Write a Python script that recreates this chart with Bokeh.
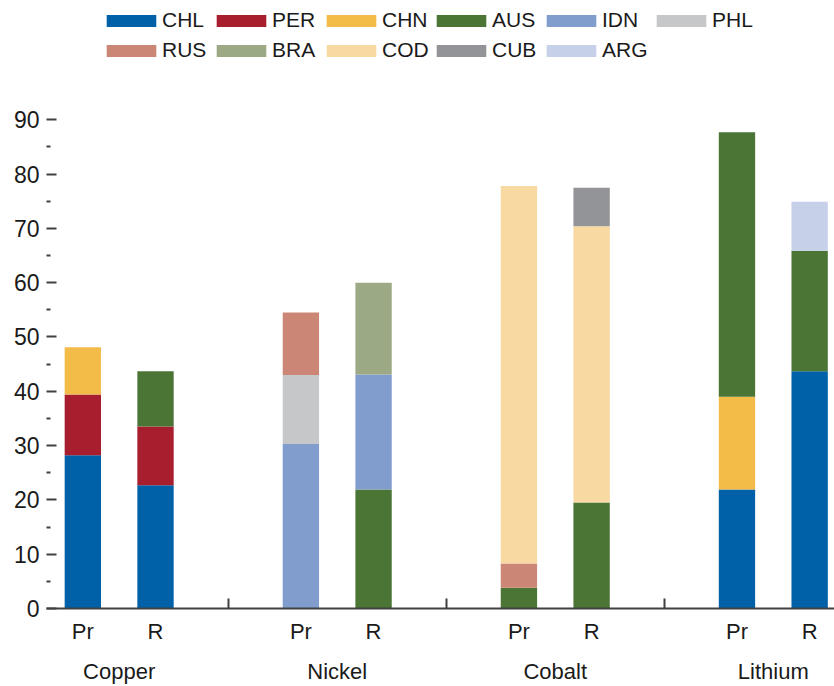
from bokeh.plotting import figure
from bokeh.models import ColumnDataSource, FixedTicker, LinearAxis, Legend, LegendItem, Range1d
from bokeh.embed import file_html
from bokeh.resources import INLINE

# ---- data ----
metals = ["Copper", "Nickel", "Cobalt", "Lithium"]
stages = ["Pr", "R"]
countries = ["CHL", "PER", "CHN", "AUS", "IDN", "PHL", "RUS", "BRA", "COD", "CUB", "ARG"]
colors = ["#0061A9", "#A91E2E", "#F3BC48", "#4A7535", "#819DCD", "#C6C7C9",
          "#CB8676", "#9BAA85", "#F8D9A1", "#939497", "#C6D0E9"]

# bars: Copper Pr, Copper R, Nickel Pr, Nickel R, Cobalt Pr, Cobalt R, Lithium Pr, Lithium R
CHL = [28.2, 22.7, 0, 0, 0, 0, 21.9, 43.7]
PER = [11.2, 10.8, 0, 0, 0, 0, 0, 0]
CHN = [8.7, 0, 0, 0, 0, 0, 17.1, 0]
AUS = [0, 10.2, 0, 21.9, 3.8, 19.5, 48.7, 22.2]
IDN = [0, 0, 30.3, 21.2, 0, 0, 0, 0]
PHL = [0, 0, 12.7, 0, 0, 0, 0, 0]
RUS = [0, 0, 11.5, 0, 4.5, 0, 0, 0]
BRA = [0, 0, 0, 16.9, 0, 0, 0, 0]
COD = [0, 0, 0, 0, 69.5, 50.9, 0, 0]
CUB = [0, 0, 0, 0, 0, 7.1, 0, 0]
ARG = [0, 0, 0, 0, 0, 0, 0, 9.0]
series = [CHL, PER, CHN, AUS, IDN, PHL, RUS, BRA, COD, CUB, ARG]

y_ticks = [0, 10, 20, 30, 40, 50, 60, 70, 80, 90]
y_minor = [5, 15, 25, 35, 45, 55, 65, 75, 85]

# ---- positions (each metal group spans 3 units) ----
bar_x = []
bar_labels = {}
for g in range(len(metals)):
    for s, st in enumerate(stages):
        xv = g * 3 + s + 1
        bar_x.append(xv)
        bar_labels[xv] = st
group_x = [g * 3 + 1.5 for g in range(len(metals))]
group_bounds = [3, 6, 9]

data = {"x": bar_x}
for c, vals in zip(countries, series):
    data[c] = vals
src = ColumnDataSource(data)

FONT = "Liberation Sans"
TXT = "#1a1a1a"
AX = "#404040"

p = figure(width=834, height=686, output_backend="svg", toolbar_location=None,
           x_range=Range1d(0.5, 11.342), y_range=Range1d(0, 111.97),
           min_border_left=46, min_border_right=0, min_border_top=0, min_border_bottom=78,
           background_fill_color="white", border_fill_color="white")
p.outline_line_color = None
p.xgrid.visible = False
p.ygrid.visible = False

renderers = p.vbar_stack(countries, x="x", width=0.5, source=src,
                         fill_color=colors, line_color=None)

# ---- y axis ----
ya = p.yaxis[0]
ya.ticker = FixedTicker(ticks=y_ticks, minor_ticks=y_minor)
ya.axis_line_color = None
ya.major_tick_in = 10
ya.major_tick_out = 0
ya.major_tick_line_width = 2
ya.major_tick_line_color = AX
ya.minor_tick_in = 4
ya.minor_tick_out = 0
ya.minor_tick_line_width = 2
ya.minor_tick_line_color = AX
ya.major_label_standoff = 7
ya.major_label_text_font = FONT
ya.major_label_text_font_size = "23px"
ya.major_label_text_color = TXT

# ---- x axis (stages) ----
xa = p.xaxis[0]
xa.ticker = FixedTicker(ticks=bar_x, minor_ticks=group_bounds)
xa.major_label_overrides = bar_labels
xa.axis_line_color = AX
xa.axis_line_width = 2
xa.major_tick_in = 0
xa.major_tick_out = 0
xa.major_tick_line_color = None
xa.minor_tick_in = 10
xa.minor_tick_out = 0
xa.minor_tick_line_width = 2
xa.minor_tick_line_color = AX
xa.major_label_standoff = 10
xa.major_label_text_font = FONT
xa.major_label_text_font_size = "22px"
xa.major_label_text_color = TXT

# ---- x axis (metal groups) ----
ga = LinearAxis(ticker=FixedTicker(ticks=group_x, minor_ticks=[]),
                major_label_overrides={gx: m for gx, m in zip(group_x, metals)})
ga.axis_line_color = None
ga.major_tick_line_color = None
ga.minor_tick_line_color = None
ga.major_tick_in = 0
ga.major_tick_out = 0
ga.major_label_standoff = 12
ga.major_label_text_font = FONT
ga.major_label_text_font_size = "22px"
ga.major_label_text_color = TXT
p.add_layout(ga, "below")

# ---- legend ----
items = [LegendItem(label=c, renderers=[r]) for c, r in zip(countries, renderers)]
legend = Legend(items=items, orientation="horizontal", ncols=6, location=(54, 543))
legend.border_line_color = None
legend.background_fill_alpha = 0
legend.padding = 0
legend.margin = 0
legend.spacing = 0
legend.glyph_width = 62
legend.glyph_height = 15
legend.label_standoff = 0
legend.label_width = 48
legend.label_height = 30
legend.label_text_font = FONT
legend.label_text_font_size = "21px"
legend.label_text_color = TXT
p.add_layout(legend)

open("out.html", "w").write(file_html(p, INLINE))
